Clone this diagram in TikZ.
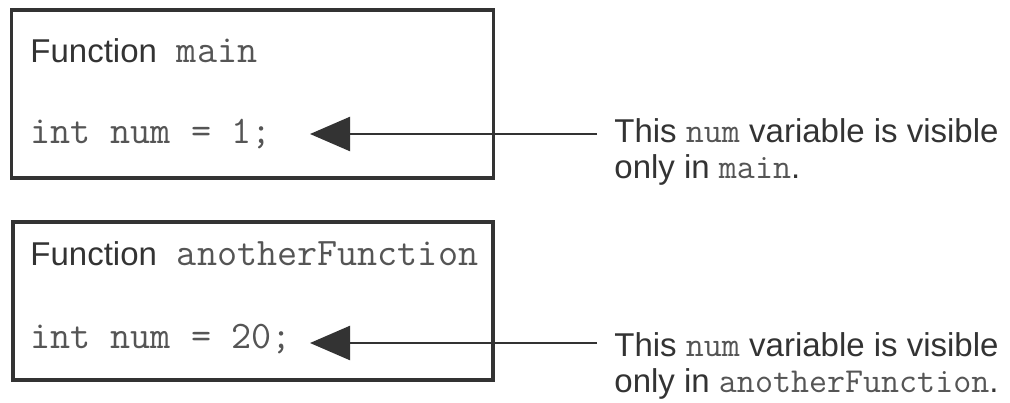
\documentclass[tikz,border=0pt]{standalone}
\usepackage{fontspec}
\setmainfont{Liberation Sans}
\usepackage{tikz}
\usetikzlibrary{arrows.meta}
\usepackage{color}
\definecolor{ink}{HTML}{333333}
\definecolor{codegray}{HTML}{555555}
\newcommand{\codetxt}[1]{{\color{codegray}\ttfamily\fontsize{19.5pt}{18pt}\selectfont #1}}
\newcommand{\notecode}[1]{{\color{codegray}\ttfamily\fontsize{17.5pt}{18pt}\selectfont #1}}

\begin{document}
\begin{tikzpicture}[
        x=0.5pt, y=-0.5pt,
        fnbox/.style={draw=ink, line width=1.75pt, inner sep=0pt},
        txt/.style={anchor=base west, inner sep=0pt, text=ink, font=\fontsize{16.5pt}{18pt}\selectfont},
        note/.style={txt, align=left},
        pointer/.style={-{Triangle[length=20pt, width=17pt]}, line width=1.2pt, draw=ink}
    ]
    \useasboundingbox (0,0) rectangle (1010,402);

    % Function boxes
    \node[fnbox, minimum width=241pt, minimum height=84pt] (mainbox) at (252.5,94) {};
    \node[fnbox, minimum width=240pt, minimum height=79pt] (otherbox) at (253,301) {};

    % Box contents
    \node[txt] (maintitle) at (30,62) {Function\hspace{10pt}\codetxt{main}};
    \node[txt] (mainvar) at (30,143) {\codetxt{int num = 1;}};
    \node[txt] (othertitle) at (30,265) {Function\hspace{10pt}\codetxt{anotherFunction}};
    \node[txt] (othervar) at (30,348) {\codetxt{int num = 20;}};

    % Notes (anchored on the last line)
    \node[note] (mainnote) at (614,178) {This \notecode{num} variable is visible\\only in \notecode{main}.};
    \node[note] (othernote) at (614,392) {This \notecode{num} variable is visible\\only in \notecode{anotherFunction}.};

    % Arrows
    \coordinate (mainlead) at (597,134);
    \coordinate (maintip) at (310,134);
    \coordinate (otherlead) at (597,343);
    \coordinate (othertip) at (310,343);
    \draw[pointer] (mainlead) -- (maintip);
    \draw[pointer] (otherlead) -- (othertip);

\end{tikzpicture}
\end{document}
